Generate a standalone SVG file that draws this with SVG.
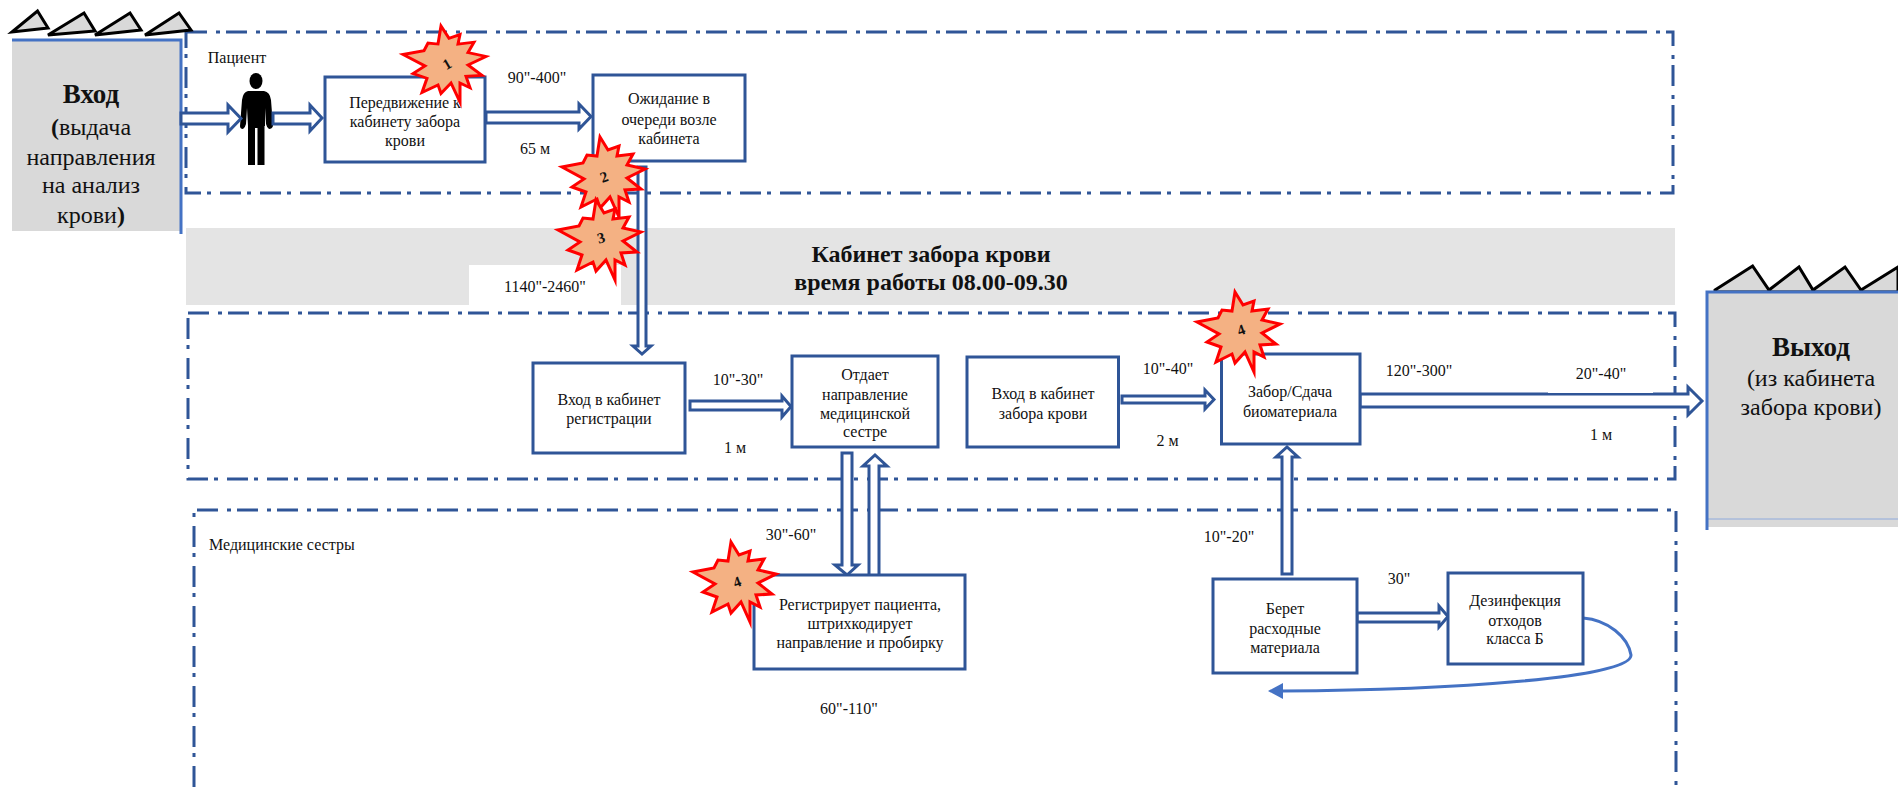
<svg xmlns="http://www.w3.org/2000/svg" xmlns:xlink="http://www.w3.org/1999/xlink" width="1898" height="787" viewBox="0 0 1898 787">
<style>
text{font-family:"Liberation Serif","Times New Roman",serif;fill:#111;text-anchor:middle;dominant-baseline:central}
.t{font-size:16px}
.b{font-weight:bold}
.lg{font-size:24px}
.xl{font-size:27px;font-weight:bold}
.box{fill:#fff;stroke:#2f5597;stroke-width:3}
.arr{fill:#fff;stroke:#2f5597;stroke-width:3;stroke-linejoin:miter}
.dash{fill:none;stroke:#2f5597;stroke-width:3;stroke-dasharray:21 9 4 6}
.tri{fill:#d9d9d9;stroke:#000;stroke-width:3}
.area{fill:#d9d9d9}
.edge{fill:none;stroke:#4472c4;stroke-width:3}
.star{fill:#f4b183;stroke:#ff0000;stroke-width:3;stroke-miterlimit:10}
.n{font-size:15px;font-weight:bold}
</style>
<defs>
<polygon id="star" class="star" points="-7,-40 1,-27 12,-31 10,-21 26,-23 20,-12 38,-8 20,1 34,12 18,13 22,25 12,20 12,40 3,20 -7,31 -10,22 -26,30 -21,15 -35,10 -23,2 -45,-10 -24,-14 -20,-22 -10,-21"/>
</defs>

<g id="band">
<rect x="186" y="228" width="1489" height="77" fill="#e4e4e4"/>
<rect x="469" y="265" width="152" height="41" fill="#fff"/>
<text class="lg b" x="931" y="254">Кабинет забора крови</text>
<text class="lg b" x="931" y="282">время работы 08.00-09.30</text>
<text class="t" x="545" y="286">1140"-2460"</text>
</g>

<g id="zones">
<rect class="dash" x="186" y="32" width="1487" height="161"/>
<rect class="dash" x="188" y="313" width="1487" height="166"/>
<path class="dash" d="M194 787V510H1676V787"/>
</g>

<g id="entry">
<polygon class="tri" points="12,32 37.5,11 48,28"/>
<polygon class="tri" points="48,35 84,13 95,31"/>
<polygon class="tri" points="95,35 130,13 141,30"/>
<polygon class="tri" points="145,35 179,13 191,30"/>
<rect class="area" x="12" y="39" width="169" height="192"/>
<path class="edge" d="M12 40H181V234"/>
<text class="xl" x="91" y="94">Вход</text>
<text class="lg" x="91" y="127"><tspan class="b">(</tspan>выдача</text>
<text class="lg" x="91" y="157">направления</text>
<text class="lg" x="91" y="185">на анализ</text>
<text class="lg" x="91" y="215">крови<tspan class="b">)</tspan></text>
</g>

<g id="exit">
<polygon class="tri" points="1715,290 1752.6,266 1769,290 1799,267 1813,290 1845,267 1861,290 1898,267 1898,292 1715,292"/>
<rect class="area" x="1707" y="292" width="191" height="235"/>
<path d="M1707 519H1898" stroke="#8faadc" stroke-width="1" fill="none"/>
<path class="edge" d="M1898 292H1707V530"/>
<text class="xl" x="1811" y="347">Выход</text>
<text class="lg" x="1811" y="378">(из кабинета</text>
<text class="lg" x="1811" y="407">забора крови)</text>
</g>

<g id="patient">
<text class="t" x="237" y="57">Пациент</text>
<ellipse cx="256" cy="81" rx="6.5" ry="8" fill="#000"/>
<path fill="#000" d="M248 91H264Q270 92 271 100L273 126Q272 129 269 129Q267 128 266 124L265 108V126H264.500V165H257.500V128H255V165H248V126L247 108L246 124Q245 128 243 129Q240 129 240 126L242 100Q243 92 248 91Z"/>
</g>

<g id="connectors">
<polygon class="arr" points="181,113 228,113 228,105 241,118.500 228,132 228,124 181,124"/>
<polygon class="arr" points="273,113 310,113 310,105 322,118 310,131 310,124 273,124"/>
<polygon class="arr" points="486,112 579,112 579,104 591,116.500 579,129 579,123 486,123"/>
<polygon class="arr" points="638,167 646,167 646,346 651,346 642,354 633,346 638,346"/>
<polygon class="arr" points="690,401 782,401 782,396 791,406.500 782,417 782,410 690,410"/>
<polygon class="arr" points="1122,396 1205,396 1205,390 1214,399.500 1205,409 1205,403 1122,403"/>
<polygon class="arr" points="1360,394 1688,394 1688,387 1702,401 1688,415 1688,407 1360,407"/>
<rect x="1548" y="391" width="105" height="2" fill="#fff"/>
<polygon class="arr" points="842,453 852,453 852,565 858,565 847,575 835,565 842,565"/>
<polygon class="arr" points="869,577 879,577 879,466 887,466 875,455 863,466 869,466"/>
<polygon class="arr" points="1282,574 1292,574 1292,457 1298,457 1287,447 1276,457 1282,457"/>
<polygon class="arr" points="1357,613 1439,613 1439,606 1448,616.500 1439,627 1439,622 1357,622"/>
<path class="edge" d="M1583 618C1608 620 1628 637 1631 655C1632 678 1450 690 1282 691"/>
<polygon fill="#4472c4" points="1268,691 1283,683 1283,699"/>
</g>

<g id="box-1"><rect class="box" x="325" y="77" width="160" height="85"/>
<text class="t" x="405" y="102">Передвижение к</text><text class="t" x="405" y="121">кабинету забора</text><text class="t" x="405" y="140">крови</text></g>
<g id="box-2"><rect class="box" x="593" y="75" width="152" height="86"/>
<text class="t" x="669" y="98">Ожидание в</text><text class="t" x="669" y="119">очереди возле</text><text class="t" x="669" y="138">кабинета</text></g>
<g id="box-3"><rect class="box" x="533" y="363" width="152" height="90"/>
<text class="t" x="609" y="399">Вход в кабинет</text><text class="t" x="609" y="418">регистрации</text></g>
<g id="box-4"><rect class="box" x="792" y="356" width="146" height="91"/>
<text class="t" x="865" y="374">Отдает</text><text class="t" x="865" y="394">направление</text><text class="t" x="865" y="413">медицинской</text><text class="t" x="865" y="431">сестре</text></g>
<g id="box-5"><rect class="box" x="967" y="357" width="151.500" height="90"/>
<text class="t" x="1043" y="393">Вход в кабинет</text><text class="t" x="1043" y="413">забора крови</text></g>
<g id="box-6"><rect class="box" x="1221.500" y="354" width="138.500" height="90"/>
<text class="t" x="1290" y="391">Забор/Сдача</text><text class="t" x="1290" y="411">биоматериала</text></g>
<g id="box-7"><rect class="box" x="754" y="575" width="211" height="94"/>
<text class="t" x="860" y="604">Регистрирует пациента,</text><text class="t" x="860" y="623">штрихкодирует</text><text class="t" x="860" y="642">направление и пробирку</text></g>
<g id="box-8"><rect class="box" x="1213" y="579" width="144" height="94"/>
<text class="t" x="1285" y="608">Берет</text><text class="t" x="1285" y="628">расходные</text><text class="t" x="1285" y="647">материала</text></g>
<g id="box-9"><rect class="box" x="1448" y="573" width="135" height="91"/>
<text class="t" x="1515" y="600">Дезинфекция</text><text class="t" x="1515" y="620">отходов</text><text class="t" x="1515" y="638">класса Б</text></g>

<g id="labels">
<text class="t" x="537" y="77">90"-400"</text>
<text class="t" x="535" y="148">65 м</text>
<text class="t" x="738" y="379">10"-30"</text>
<text class="t" x="735" y="447">1 м</text>
<text class="t" x="1168" y="368">10"-40"</text>
<text class="t" x="1167.500" y="440">2 м</text>
<text class="t" x="1419" y="370">120"-300"</text>
<text class="t" x="1601" y="373">20"-40"</text>
<text class="t" x="1601" y="434">1 м</text>
<text class="t" x="1229" y="536">10"-20"</text>
<text class="t" x="1399" y="578">30"</text>
<text class="t" x="791" y="534">30"-60"</text>
<text class="t" x="849" y="708">60"-110"</text>
<text class="t" x="209" y="544" style="text-anchor:start">Медицинские сестры</text>
</g>

<g id="star-1"><use href="#star" transform="translate(448,64) scale(1,.95)"/><text class="n" transform="translate(447,64) rotate(-30)">1</text></g>
<g id="star-2"><use href="#star" transform="translate(607,177)"/><text class="n" transform="translate(604,177) rotate(-20)">2</text></g>
<g id="star-3"><use href="#star" transform="translate(603,240)"/><text class="n" transform="translate(601,238) rotate(-15)">3</text></g>
<g id="star-4a"><use href="#star" transform="translate(1242,332)"/><text class="n" transform="translate(1241,330) rotate(-20)">4</text></g>
<g id="star-4b"><use href="#star" transform="translate(738,582)"/><text class="n" transform="translate(737,582) rotate(-20)">4</text></g>
</svg>
